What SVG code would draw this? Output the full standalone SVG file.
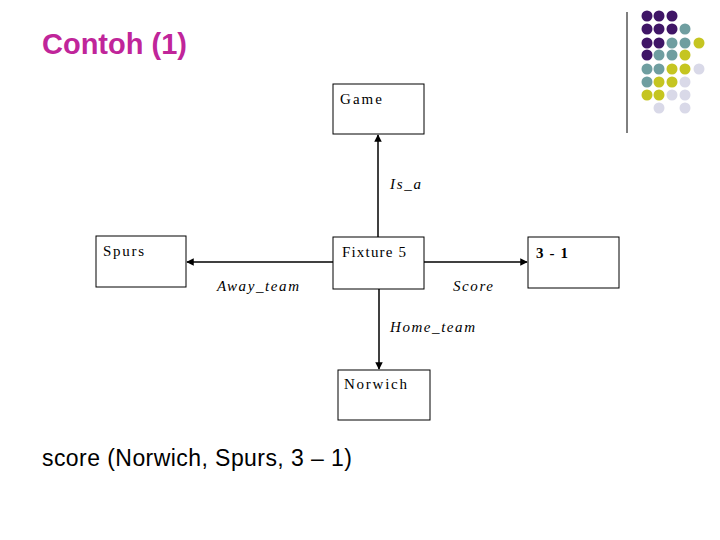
<svg xmlns="http://www.w3.org/2000/svg" width="720" height="540" viewBox="0 0 720 540">
<style>
.box{fill:#fff;stroke:#000;stroke-width:1}
.t{font-family:"Liberation Serif",serif;font-size:15px;fill:#000}
.l{font-family:"Liberation Serif",serif;font-size:15px;font-style:italic;fill:#000}
.e{stroke:#000;stroke-width:1.5;fill:none;marker-end:url(#a)}
.P{fill:#3f1566}.T{fill:#6f9ea0}.Y{fill:#c5c521}.L{fill:#d9d9e8}
</style>
<defs><marker id="a" viewBox="0 0 10 10" refX="9" refY="5" markerWidth="5" markerHeight="5" orient="auto"><path d="M0,0L10,5L0,10z" fill="#000"/></marker></defs>
<rect width="720" height="540" fill="#fff"/>
<text x="42" y="54" font-family="Liberation Sans,sans-serif" font-size="29" font-weight="bold" fill="#c0259a">Contoh (1)</text>
<line x1="627" y1="12" x2="627" y2="133" stroke="#000"/>
<g>
<circle class="P" cx="647" cy="16" r="5.5"/><circle class="P" cx="659" cy="16" r="5.5"/><circle class="P" cx="672" cy="16" r="5.5"/>
<circle class="P" cx="647" cy="29" r="5.5"/><circle class="P" cx="659" cy="29" r="5.5"/><circle class="P" cx="672" cy="29" r="5.5"/><circle class="T" cx="685" cy="29" r="5.5"/>
<circle class="P" cx="647" cy="43" r="5.5"/><circle class="P" cx="659" cy="43" r="5.5"/><circle class="T" cx="672" cy="43" r="5.5"/><circle class="T" cx="685" cy="43" r="5.5"/><circle class="Y" cx="699" cy="43" r="5.5"/>
<circle class="P" cx="647" cy="55" r="5.5"/><circle class="T" cx="659" cy="55" r="5.5"/><circle class="T" cx="672" cy="55" r="5.5"/><circle class="Y" cx="685" cy="55" r="5.5"/>
<circle class="T" cx="647" cy="69" r="5.5"/><circle class="T" cx="659" cy="69" r="5.5"/><circle class="Y" cx="672" cy="69" r="5.5"/><circle class="Y" cx="685" cy="69" r="5.5"/><circle class="L" cx="699" cy="69" r="5.5"/>
<circle class="T" cx="647" cy="82" r="5.5"/><circle class="Y" cx="659" cy="82" r="5.5"/><circle class="Y" cx="672" cy="82" r="5.5"/><circle class="L" cx="685" cy="82" r="5.5"/>
<circle class="Y" cx="647" cy="95" r="5.5"/><circle class="Y" cx="659" cy="95" r="5.5"/><circle class="L" cx="672" cy="95" r="5.5"/><circle class="L" cx="685" cy="95" r="5.5"/>
<circle class="L" cx="659" cy="108" r="5.5"/><circle class="L" cx="685" cy="108" r="5.5"/>
</g>
<g id="edges">
<line class="e" x1="378" y1="237" x2="378" y2="135"/>
<line class="e" x1="333" y1="262" x2="187" y2="262"/>
<line class="e" x1="424" y1="262" x2="527" y2="262"/>
<line class="e" x1="379" y1="289" x2="379" y2="369"/>
<text class="l" x="390" y="189" textLength="31">Is_a</text>
<text class="l" x="217" y="291" textLength="82">Away_team</text>
<text class="l" x="453" y="291" textLength="40">Score</text>
<text class="l" x="390" y="332" textLength="85">Home_team</text>
</g>
<g id="game"><rect class="box" x="333" y="84" width="91" height="50"/><text class="t" x="340" y="104" textLength="42">Game</text></g>
<g id="fixture"><rect class="box" x="333" y="237" width="91" height="52"/><text class="t" x="342" y="257" textLength="64">Fixture 5</text></g>
<g id="spurs"><rect class="box" x="96" y="236" width="90" height="51"/><text class="t" x="103" y="256" textLength="41">Spurs</text></g>
<g id="score"><rect class="box" x="528" y="237" width="91" height="51"/><text class="t" x="536" y="258" font-size="17" font-weight="bold" textLength="32">3 - 1</text></g>
<g id="norwich"><rect class="box" x="338" y="370" width="92" height="50"/><text class="t" x="344" y="389" textLength="63">Norwich</text></g>
<text x="42" y="466" font-family="Liberation Sans,sans-serif" font-size="23" fill="#000" textLength="310">score (Norwich, Spurs, 3 – 1)</text>
</svg>
